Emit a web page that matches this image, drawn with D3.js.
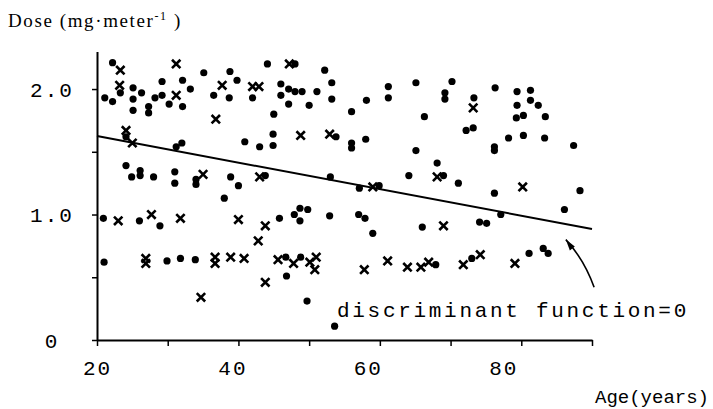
<!DOCTYPE html>
<html>
<head>
<meta charset="utf-8">
<script src="https://cdn.jsdelivr.net/npm/d3@7"></script>
<style>
  body { margin: 0; background: #fff; }
  svg { display: block; }
</style>
</head>
<body>
<div id="chart"></div>
<script>
// data: [age, dose]
var dotAges = [22.2, 35.1, 23.3, 21.1, 22.2, 25.1, 26.3, 25.1, 25.1, 27.3, 27.3, 28.2, 29.2, 29.2, 32.1, 33.2, 30.2, 32.1, 36.5, 24.1,
    31.2, 32.0, 44.1, 48.0, 38.8, 39.8, 38.7, 42.0, 46.0, 46.0, 47.1, 48.0, 49.0, 47.1, 50.0, 51.1, 52.2, 53.2, 53.2, 45.0,
    44.9, 53.8, 40.9, 43.0, 44.9, 61.2, 61.2, 65.1, 70.2, 69.2, 69.2, 58.1, 56.0, 66.3, 56.0, 56.0, 58.0, 65.1, 76.3, 79.4,
    81.3, 73.3, 79.4, 81.3, 82.4, 79.3, 80.3, 83.4, 72.2, 73.2, 78.2, 80.3, 83.3, 76.2, 76.2, 87.4, 24.1, 26.1, 24.9, 26.1,
    28.0, 31.0, 31.0, 34.0, 34.0, 20.9, 26.0, 28.9, 43.8, 38.9, 40.0, 53.0, 38.0, 45.8, 47.9, 48.7, 49.8, 48.7, 52.9, 68.1,
    64.1, 69.0, 71.1, 57.1, 59.9, 57.0, 57.9, 59.0, 66.0, 76.2, 88.3, 77.1, 86.1, 74.1, 75.1, 21.0, 29.9, 31.8, 33.9, 46.7,
    48.8, 46.8, 49.7, 53.6, 67.9, 73.0, 81.1, 83.1, 83.8];
var dotDoses = [2.21, 2.13, 1.97, 1.93, 1.90, 2.01, 1.97, 1.92, 1.83, 1.86, 1.81, 1.93, 1.95, 2.06, 2.07, 2.00, 1.88, 1.86, 1.95, 1.62,
    1.54, 1.57, 2.20, 2.20, 2.14, 2.07, 1.93, 1.93, 2.04, 1.95, 2.00, 1.98, 1.98, 1.88, 1.87, 1.98, 2.15, 2.05, 1.92, 1.80,
    1.64, 1.62, 1.58, 1.54, 1.55, 2.02, 1.93, 2.05, 2.06, 1.97, 1.92, 1.91, 1.82, 1.78, 1.57, 1.53, 1.60, 1.51, 2.01, 1.98,
    1.99, 1.93, 1.87, 1.91, 1.87, 1.77, 1.79, 1.78, 1.67, 1.69, 1.61, 1.63, 1.61, 1.54, 1.51, 1.55, 1.39, 1.35, 1.30, 1.31,
    1.30, 1.34, 1.25, 1.28, 1.24, 0.97, 0.95, 0.91, 1.31, 1.30, 1.23, 1.30, 1.13, 0.97, 1.00, 1.05, 1.04, 0.95, 0.99, 1.41,
    1.31, 1.31, 1.25, 1.21, 1.23, 1.00, 0.97, 0.85, 0.90, 1.17, 1.19, 1.00, 1.04, 0.94, 0.93, 0.62, 0.63, 0.65, 0.64, 0.66,
    0.66, 0.51, 0.31, 0.11, 0.60, 0.65, 0.69, 0.73, 0.69];

var crossAges = [23.3, 31.2, 23.2, 31.2, 37.7, 36.8, 24.1, 25.0, 47.2, 42.0, 42.9, 48.8, 52.9, 73.2, 35.0, 23.0, 27.7, 31.8, 43.0, 40.0,
    43.8, 42.8, 68.1, 59.0, 69.0, 80.2, 26.9, 26.9, 36.7, 36.7, 34.7, 38.9, 40.8, 43.8, 45.6, 47.8, 50.1, 51.0, 50.8, 57.8,
    61.1, 63.9, 65.8, 66.9, 71.8, 74.2, 79.1];
var crossDoses = [2.15, 2.20, 2.03, 1.95, 2.03, 1.76, 1.67, 1.57, 2.20, 2.02, 2.02, 1.63, 1.64, 1.85, 1.32, 0.95, 1.00, 0.97, 1.30, 0.96,
    0.91, 0.79, 1.30, 1.22, 0.91, 1.22, 0.65, 0.61, 0.66, 0.61, 0.34, 0.66, 0.65, 0.46, 0.64, 0.61, 0.62, 0.66, 0.56, 0.56,
    0.63, 0.58, 0.58, 0.62, 0.60, 0.68, 0.61];

// discriminant function = 0
var lineAges = [20, 90];
var lineDoses = [1.625, 0.885];

var xTicks = [20, 30, 40, 50, 60, 70, 80, 90];
var xTickLabels = {20: "20", 40: "40", 60: "60", 80: "80"};
var yTicks = [0, 0.5, 1, 1.5, 2];
var yTickLabels = {0: "0", 1: "1.0", 2: "2.0"};

var svgWidth = 713;
var svgHeight = 409;

var svg = d3.select("#chart")
    .append("svg")
    .attr("width", svgWidth)
    .attr("height", svgHeight);

// scales
var x = d3.scaleLinear().domain([20, 90]).range([97, 592]);
var y = d3.scaleLinear().domain([0, 2.3]).range([340, 51.4]);

var mono = "'Liberation Mono', 'DejaVu Sans Mono', monospace";

// x axis
var xAxis = svg.append("g")
    .attr("transform", "translate(0,340)")
    .call(d3.axisBottom(x)
        .tickValues(xTicks)
        .tickSize(6)
        .tickSizeOuter(0)
        .tickPadding(14)
        .tickFormat(d => xTickLabels[d] || ""));

// y axis
var yAxis = svg.append("g")
    .attr("transform", "translate(97,0)")
    .call(d3.axisLeft(y)
        .tickValues(yTicks)
        .tickSize(5)
        .tickSizeOuter(0)
        .tickFormat(d => yTickLabels[d] || ""));

svg.selectAll(".domain").attr("stroke", "#000").attr("stroke-width", 2);
svg.selectAll(".tick line").attr("stroke", "#000").attr("stroke-width", 1.5);
svg.selectAll(".tick text")
    .attr("fill", "#000")
    .style("font-family", mono)
    .style("font-size", "21px")
    .style("letter-spacing", "2px");
yAxis.selectAll(".tick text")
    .attr("text-anchor", "middle")
    .attr("x", -45)
    .attr("dy", "0.35em");
// the printed labels sit a little left of their ticks
xAxis.selectAll(".tick text")
    .attr("dx", d => d > 30 ? -(d - 20) * 0.3 : 0);

// discriminant line
var line = d3.line()
    .x(d => x(d[0]))
    .y(d => y(d[1]));

svg.append("path")
    .datum(d3.zip(lineAges, lineDoses))
    .attr("d", line)
    .attr("fill", "none")
    .attr("stroke", "#000")
    .attr("stroke-width", 2);

// dots
svg.append("g").selectAll("circle")
    .data(d3.zip(dotAges, dotDoses))
    .enter()
    .append("circle")
    .attr("cx", d => x(d[0]))
    .attr("cy", d => y(d[1]))
    .attr("r", 3.6)
    .attr("fill", "#000");

// crosses
var s = 4.2;
svg.append("g").selectAll("path")
    .data(d3.zip(crossAges, crossDoses))
    .enter()
    .append("path")
    .attr("d", d => {
        var cx = x(d[0]), cy = y(d[1]);
        return `M${cx - s},${cy - s}L${cx + s},${cy + s}M${cx - s},${cy + s}L${cx + s},${cy - s}`;
    })
    .attr("stroke", "#000")
    .attr("stroke-width", 2.6)
    .attr("fill", "none");

// annotation arrow
var arrowFrom = [90.3, 0.42];
var arrowTo = [86.3, 0.80];
var p0 = [x(arrowFrom[0]), y(arrowFrom[1])];
var p1 = [x(arrowTo[0]), y(arrowTo[1])];
svg.append("path")
    .attr("d", `M${p0[0]},${p0[1]}Q${p0[0] - 10},${(p0[1] + p1[1]) / 2 - 4} ${p1[0]},${p1[1]}`)
    .attr("fill", "none")
    .attr("stroke", "#000")
    .attr("stroke-width", 1.6);
svg.append("path")
    .attr("d", `M${p1[0]},${p1[1]}L${p1[0] + 9},${p1[1] + 7}L${p1[0] + 4},${p1[1] + 11}Z`)
    .attr("fill", "#000");

svg.append("text")
    .attr("x", 337)
    .attr("y", 317)
    .style("font-family", mono)
    .style("font-size", "21px")
    .style("letter-spacing", "2.7px")
    .text("discriminant function=0");

// axis titles
var yTitle = svg.append("text")
    .attr("x", 8)
    .attr("y", 27)
    .style("font-family", "'Liberation Serif', 'DejaVu Serif', serif")
    .style("font-size", "19px")
    .style("letter-spacing", "1.6px");
yTitle.append("tspan").text("Dose (mg\u00b7meter");
yTitle.append("tspan").attr("dy", -7).style("font-size", "12px").text("-1");
yTitle.append("tspan").attr("dy", 7).text(" )");

svg.append("text")
    .attr("x", 595)
    .attr("y", 403)
    .style("font-family", mono)
    .style("font-size", "19px")
    .text("Age(years)");
</script>
</body>
</html>
